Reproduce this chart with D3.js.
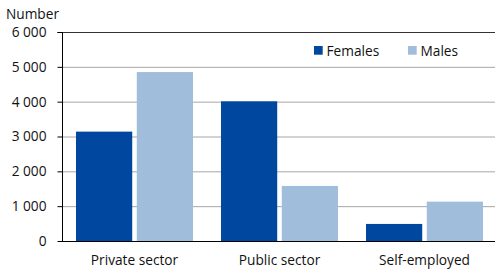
<!DOCTYPE html>
<html><head><meta charset="utf-8">
<script src="https://cdn.jsdelivr.net/npm/d3@7"></script>
<style>body{margin:0;background:#fff}svg{display:block;font-family:"Open Sans",sans-serif}</style>
</head><body>
<script>
const categories = ["Private sector", "Public sector", "Self-employed"];
const seriesNames = ["Females", "Males"];
const females = [3140, 4010, 490];
const males = [4850, 1580, 1130];
const yTicks = [0, 1000, 2000, 3000, 4000, 5000, 6000];
const colors = ["#0047A0", "#A1BDDC"];

const W = 495, H = 269;
const FS = 13.7;
const m = {left: 62, right: 0, top: 32, bottom: 28};
const svg = d3.select("body").append("svg").attr("width", W).attr("height", H);
const x = d3.scaleBand().domain(categories).range([m.left, m.left + 435]).paddingInner(0.193).paddingOuter(0.0965);
const x1 = d3.scaleBand().domain(seriesNames).range([0, x.bandwidth()]).paddingInner(0.075);
const y = d3.scaleLinear().domain([0, 6000]).range([H - m.bottom, m.top]);
const fmt = v => d3.format(",")(v).replace(/,/g, " ");

// gridlines
svg.append("g").selectAll("line").data(yTicks.filter(t => t > 0 && t < 6000)).join("line")
  .attr("x1", m.left).attr("x2", W).attr("y1", d => y(d) + 0.5).attr("y2", d => y(d) + 0.5)
  .attr("stroke", "#a6a6a6").attr("stroke-width", 1);
svg.append("line").attr("x1", m.left).attr("x2", W).attr("y1", y(6000) + 0.5).attr("y2", y(6000) + 0.5)
  .attr("stroke", "#333").attr("stroke-width", 1);

// bars
const data = categories.map((c, i) => ({c, vals: [females[i], males[i]]}));
svg.append("g").selectAll("g").data(data).join("g")
  .attr("transform", d => `translate(${x(d.c)},0)`)
  .selectAll("rect").data(d => d.vals.map((v, j) => ({s: seriesNames[j], v, j}))).join("rect")
  .attr("x", d => x1(d.s)).attr("width", x1.bandwidth())
  .attr("y", d => y(d.v)).attr("height", d => y(0) - y(d.v))
  .attr("fill", d => colors[d.j]);

// y axis
const ya = svg.append("g").attr("transform", `translate(${m.left + 0.5},0)`)
  .call(d3.axisLeft(y).tickValues(yTicks).tickFormat(fmt).tickSize(5).tickPadding(11));
ya.select(".domain").attr("stroke", "#000").attr("d", `M-5,${y(6000)+0.5}H0V${y(0)+0.5}`);
ya.selectAll(".tick line").attr("stroke", "#000");
ya.selectAll("text").attr("font-size", FS).attr("fill", "#111").attr("font-family", "'Open Sans',sans-serif");

// x axis
const xa = svg.append("g").attr("transform", `translate(0,${y(0) + 0.5})`)
  .call(d3.axisBottom(x).tickSize(0).tickPadding(14));
xa.select(".domain").attr("stroke", "#000").attr("d", `M${m.left},0H${W}`);
xa.selectAll("text").attr("font-size", FS).attr("fill", "#111").attr("font-family", "'Open Sans',sans-serif");

// title
svg.append("text").attr("x", 6).attr("y", 19).text("Number").attr("font-size", FS).attr("fill", "#111");

// legend
const lx = [314, 408];
const lg = svg.append("g").selectAll("g").data(seriesNames).join("g")
  .attr("transform", (d, i) => `translate(${lx[i]},46)`);
lg.append("rect").attr("width", 8.7).attr("height", 8.7).attr("fill", (d, i) => colors[i]);
lg.append("text").attr("x", 12.5).attr("y", 9.5).text(d => d).attr("font-size", FS).attr("fill", "#111");
</script>
</body></html>
